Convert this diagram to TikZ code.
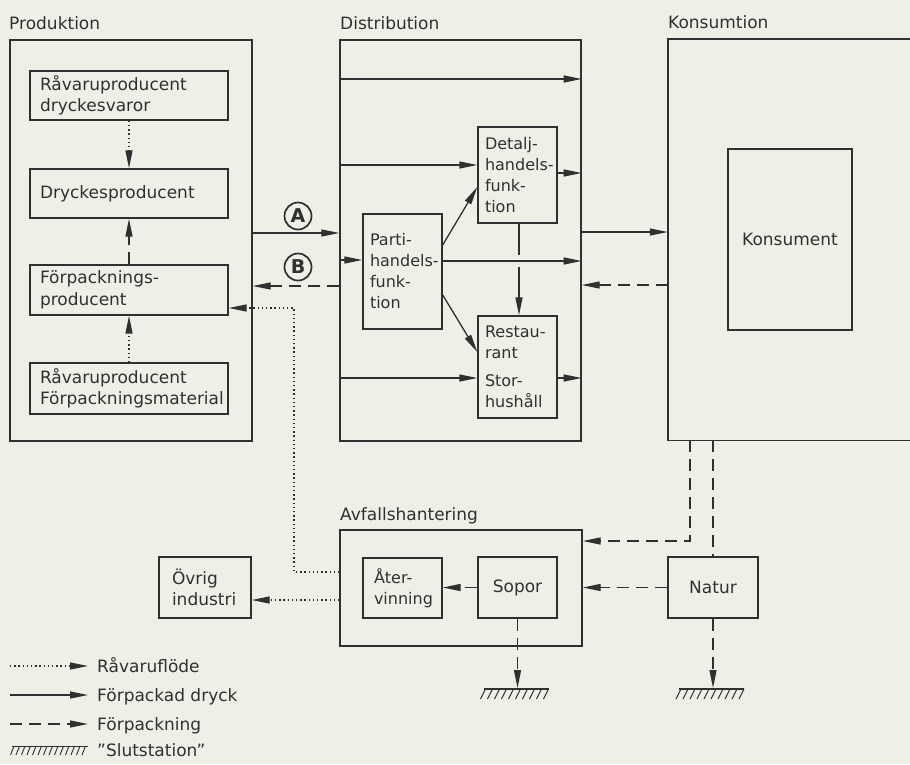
\documentclass[tikz,border=0pt]{standalone}
\usepackage{fontspec}
\setmainfont{DejaVu Sans}
\usetikzlibrary{arrows.meta}
\definecolor{ink}{RGB}{48,48,48}
\definecolor{paper}{RGB}{239,239,231}
\newcommand\mf{\fontsize{17}{21.5}\selectfont}
\newcommand\nf{\fontsize{16}{21}\selectfont}
\tikzset{
  frame/.style={draw=ink, line width=1.4pt, inner sep=0pt},
  box/.style={draw=ink, line width=1.4pt, inner xsep=10pt, inner ysep=0pt, align=left, font=\mf, text=ink, text width=178pt, minimum width=198pt},
  nbox/.style={box, font=\nf, inner xsep=7pt, text width=65pt, minimum width=79pt},
  cbox/.style={draw=ink, line width=1.4pt, inner sep=0pt, align=center, font=\mf, text=ink},
  lbl/.style={inner sep=0pt, font=\mf, text=ink},
  circ/.style={draw=ink, circle, line width=1.7pt, minimum size=27pt, inner sep=0pt, text=ink, font=\fontsize{19}{20}\selectfont\bfseries},
  ln/.style={draw=ink, line width=1.3pt},
  arr/.style={-{Triangle[length=18pt,width=7pt]}},
  dsh/.style={dash pattern=on 12pt off 7pt},
  dotl/.style={dash pattern=on 1.4pt off 2.8pt},
  groundpic/.pic={
    \draw[ink, line width=1.2pt] (-34,0) -- (31,0);
    \foreach \i in {-32,-25,...,31} \draw[ink, line width=1pt] (\i,0) -- ++(-5,10);
  },
  legendhatch/.pic={
    \draw[ink, line width=1pt] (2,-4) -- (78,-4);
    \foreach \i in {4,9.5,...,78} \draw[ink, line width=0.9pt] (\i,-4) -- ++(-3.5,9);
  }
}
\begin{document}
\begin{tikzpicture}[x=1pt,y=-1pt]
\fill[paper] (0,0) rectangle (910,764);
\useasboundingbox (0,0) rectangle (910,764);

% section labels
\node[lbl, anchor=base west] (lprod) at (9,29.5) {Produktion};
\node[lbl, anchor=base west] (ldist) at (340,29.5) {Distribution};
\node[lbl, anchor=base west] (lkons) at (668,28.5) {Konsumtion};
\node[lbl, anchor=base west] (lavf) at (340,520) {Avfallshantering};

% frames
\node[frame, minimum width=242pt, minimum height=401pt] (prod) at (131,240.5) {};
\node[frame, minimum width=241pt, minimum height=401pt] (dist) at (460.5,240.5) {};
\node[inner sep=0pt, minimum width=242pt, minimum height=401pt] (kons) at (789,239.5) {};
\draw[ink, line width=1.4pt] (kons.north east) -- (kons.north west) -- (kons.south west) -- (kons.south east);
\node[frame, minimum width=242pt, minimum height=116pt] (avf) at (461,588) {};

% production boxes
\node[box, minimum height=49pt] (rv1) at (129,95.5) {Råvaruproducent\\dryckesvaror};
\node[box, minimum height=49pt] (dp) at (129,193.5) {Dryckesproducent};
\node[box, minimum height=50pt] (fp) at (129,290) {\mbox{Förpacknings-}\\producent};
\node[box, minimum height=51pt] (rv2) at (129,388.5) {Råvaruproducent\\Förpackningsmaterial};

% distribution boxes
\node[nbox, minimum height=96pt] (detalj) at (517.5,175) {\mbox{Detalj-}\\\mbox{handels-}\\\mbox{funk-}\\tion};
\node[nbox, minimum height=115pt] (parti) at (402.5,271.5) {\mbox{Parti-}\\\mbox{handels-}\\\mbox{funk-}\\tion};
\node[nbox, minimum height=102pt] (rest) at (517.5,367) {\mbox{Restau-}\\rant\\[7pt]\mbox{Stor-}\\hushåll};

% consumption
\node[cbox, minimum width=124pt, minimum height=181pt] (konsument) at (790,239.5) {Konsument};

% waste
\node[nbox, inner xsep=11pt, text width=57pt, minimum height=60pt] (aterv) at (402.5,588) {\mbox{Åter-}\\vinning};
\node[cbox, minimum width=79pt, minimum height=61pt] (sopor) at (517.5,587.5) {Sopor};
\node[cbox, minimum width=90pt, minimum height=61pt] (natur) at (713,587.5) {Natur};
\node[box, inner xsep=13pt, text width=66pt, minimum width=92pt, minimum height=61pt] (ovrig) at (205,587.5) {Övrig\\industri};

% A / B markers
\node[circ] (ca) at (298,216) {A};
\node[circ] (cb) at (298,267) {B};

% production internal
\draw[ln, dotl, arr] (rv1.south) -- (dp.north);
\draw[ln, dsh, arr] (fp.north) -- (dp.south);
\draw[ln, dotl, arr] (rv2.north) -- (fp.south);

% production <-> distribution
\draw[ln, arr] (prod.east |- 0,233) -- (dist.west |- 0,233);
\draw[ln, dsh, arr] (dist.west |- 0,286) -- (prod.east |- 0,286);
\draw[ln, dotl, arr] (avf.west |- 0,572) -| (294,308) -- (fp.east |- 0,308);

% distribution internal
\draw[ln, arr] (dist.west |- 0,79) -- (dist.east |- 0,79);
\draw[ln, arr] (dist.west |- 0,165) -- (detalj.west |- 0,165);
\draw[ln, arr] (detalj.east |- 0,173) -- (dist.east |- 0,173);
\draw[ln, arr] (dist.west |- 0,260) -- (parti.west |- 0,260);
\draw[ln, arr] ([xshift=1.5pt]detalj.south) -- ([xshift=1.5pt]rest.north);
\fill[paper] (512,255) rectangle (526,267);
\draw[ln, arr] (parti.east |- 0,261) -- (dist.east |- 0,261);
\draw[ln, arr] (parti.east |- 0,245) -- (detalj.west |- 0,187);
\draw[ln, arr] (parti.east |- 0,295) -- (rest.west |- 0,352);
\draw[ln, arr] (dist.west |- 0,378) -- (rest.west |- 0,378);
\draw[ln, arr] (rest.east |- 0,378) -- (dist.east |- 0,378);

% distribution <-> consumption
\draw[ln, arr] (dist.east |- 0,232) -- (kons.west |- 0,232);
\draw[ln, dsh, arr] (kons.west |- 0,285) -- (dist.east |- 0,285);

% consumption -> waste / nature
\draw[ln, dsh, arr] (690,0 |- kons.south) |- (avf.east |- 0,541);
\draw[ln, dsh] (natur.north |- kons.south) -- (natur.north);
\draw[ln, dsh, arr] (natur.west) -- (avf.east |- natur.west);
\draw[ln, dsh, arr] (sopor.west) -- (aterv.east |- sopor.west);
\draw[ln, dotl, arr] (avf.west |- 0,600) -- (ovrig.east |- 0,600);

% end stations
\coordinate (gr1) at (517.5,688);
\coordinate (gr2) at (713,688);
\draw[ln, dsh, arr] (sopor.south) -- (gr1);
\draw[ln, dsh, arr] (natur.south) -- (gr2);
\pic at ([yshift=-1pt]gr1) {groundpic};
\pic at ([yshift=-1pt]gr2) {groundpic};

% legend
\coordinate (lg1a) at (10,666); \coordinate (lg1b) at (88,666);
\coordinate (lg2a) at (10,695); \coordinate (lg2b) at (88,695);
\coordinate (lg3a) at (10,724); \coordinate (lg3b) at (88,724);
\coordinate (lg4) at (10,750);
\draw[ln, dotl, arr] (lg1a) -- (lg1b);
\draw[ln, arr] (lg2a) -- (lg2b);
\draw[ln, dsh, arr] (lg3a) -- (lg3b);
\pic at (lg4) {legendhatch};
\node[lbl, anchor=base west] (t1) at (97,672) {Råvaruflöde};
\node[lbl, anchor=base west] (t2) at (97,701) {Förpackad dryck};
\node[lbl, anchor=base west] (t3) at (97,730) {Förpackning};
\node[lbl, anchor=base west] (t4) at (97,756) {”Slutstation”};
\end{tikzpicture}
\end{document}
